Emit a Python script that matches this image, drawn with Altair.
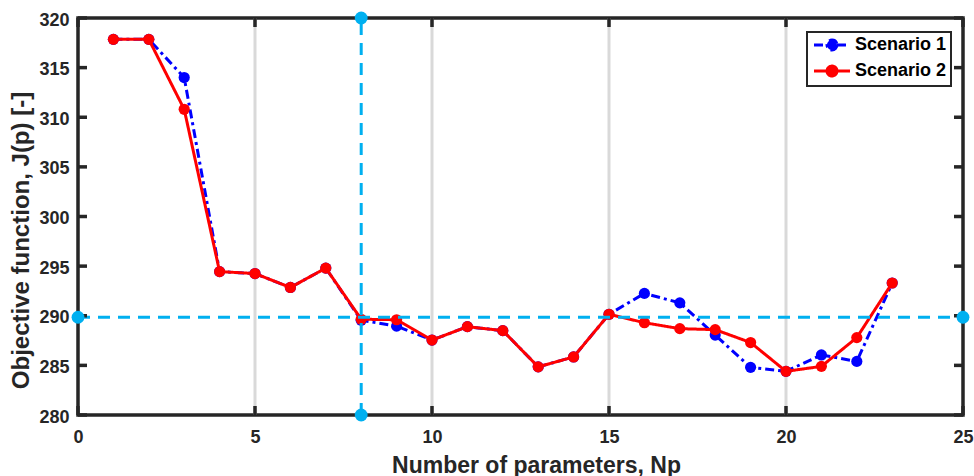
import altair as alt
import pandas as pd

# Objective function vs number of parameters for two scenarios
np_values = list(range(1, 24))
scenario_1 = [317.85, 317.85, 314.0, 294.45, 294.25, 292.85, 294.8, 289.55, 288.95,
              287.55, 288.9, 288.5, 284.85, 285.85, 290.15, 292.25, 291.3, 288.05,
              284.8, 284.4, 286.05, 285.4, 293.3]
scenario_2 = [317.85, 317.85, 310.8, 294.45, 294.25, 292.85, 294.8, 289.65, 289.6,
              287.55, 288.9, 288.5, 284.85, 285.85, 290.15, 289.3, 288.7, 288.6,
              287.3, 284.4, 284.9, 287.8, 293.3]
series_names = ["Scenario 1", "Scenario 2"]
series_colors = ["#0000FF", "#FF0000"]
series_dashes = [[9, 4, 3, 4], [1, 0]]

# Selected model size and the corresponding objective level
ref_np = 8
ref_j = 289.85

x_domain = [0, 25]
y_domain = [280, 320]
x_ticks = [0, 5, 10, 15, 20, 25]
y_ticks = [280, 285, 290, 295, 300, 305, 310, 315, 320]
grid_x = [5, 10, 15, 20]

W, H = 885, 397
FONT = "Liberation Sans"
INK = "#262626"
CYAN = "#00B0F0"

df = pd.DataFrame({
    "Np": np_values * 2,
    "J": scenario_1 + scenario_2,
    "series": [series_names[0]] * len(np_values) + [series_names[1]] * len(np_values),
})

x_scale = alt.Scale(domain=x_domain, nice=False, zero=False)
y_scale = alt.Scale(domain=y_domain, nice=False, zero=False)

x_axis = alt.Axis(
    values=x_ticks, format="d", domain=False, ticks=False, tickSize=0, grid=False,
    labelFont=FONT, labelFontSize=18, labelFontWeight="bold", labelColor=INK,
    labelPadding=27, labelBaseline="alphabetic", labelFlush=False,
    title="Number of parameters, Np", titleFont=FONT, titleFontSize=23,
    titleFontWeight="bold", titleColor=INK, titleX=458, titleY=57,
    titleBaseline="alphabetic", titleAlign="center",
)
y_axis = alt.Axis(
    values=y_ticks, format="d", domain=False, ticks=False, tickSize=0, grid=False,
    labelFont=FONT, labelFontSize=18, labelFontWeight="bold", labelColor=INK,
    labelPadding=9, labelBaseline="middle", labelOffset=2, labelFlush=False,
    title="Objective function, J(p) [-]", titleFont=FONT, titleFontSize=24,
    titleFontWeight="bold", titleColor=INK, titleX=-50, titleY=222,
    titleBaseline="alphabetic", titleAlign="center", titleAngle=270,
)


def xq(field):
    return alt.X(field, type="quantitative", scale=x_scale, axis=x_axis)


def yq(field):
    return alt.Y(field, type="quantitative", scale=y_scale, axis=y_axis)


# Legend symbol: short line with a dot in the middle
legend_symbol = ("M-1,0L1.17,0M2.83,0A0.83,0.83,0,1,1,1.17,0"
                 "A0.83,0.83,0,1,1,2.83,0ZM2.83,0L5,0")
legend = alt.Legend(
    title=None, orient="none", legendX=729, legendY=14,
    symbolType=legend_symbol, symbolSize=144, symbolStrokeWidth=3, symbolOpacity=1,
    labelFont=FONT, labelFontSize=18, labelFontWeight="bold", labelColor="black",
    labelOffset=26, padding=4, rowPadding=4,
    strokeColor=INK, fillColor="white",
)
color_scale = alt.Scale(domain=series_names, range=series_colors)
dash_scale = alt.Scale(domain=series_names, range=series_dashes)

# Vertical grid lines
grid = alt.Chart(pd.DataFrame({"x": grid_x})).mark_rule(
    color="#D9D9D9", strokeWidth=3
).encode(x=xq("x"), y=alt.value(0), y2=alt.value(H))

layers = [grid]

for name in series_names:
    sub = alt.Chart(df).transform_filter(alt.datum.series == name)
    line = sub.mark_line(strokeWidth=3, strokeCap="butt").encode(
        x=xq("Np"), y=yq("J"),
        stroke=alt.Stroke("series:N", scale=color_scale, legend=legend),
        strokeDash=alt.StrokeDash("series:N", scale=dash_scale, legend=legend),
    )
    pts = sub.mark_circle(size=125, opacity=1).encode(
        x=xq("Np"), y=yq("J"),
        fill=alt.Fill("series:N", scale=color_scale, legend=legend),
    )
    layers += [line, pts]

# Cyan reference cross-hair with end markers
h_ref = alt.Chart(pd.DataFrame({"x0": [x_domain[0]], "x1": [x_domain[1]], "y": [ref_j]})).mark_rule(
    color=CYAN, strokeWidth=3, strokeDash=[12, 8]
).encode(x=xq("x0"), x2="x1", y=yq("y"))
v_ref = alt.Chart(pd.DataFrame({"x": [ref_np], "y0": [y_domain[0]], "y1": [y_domain[1]]})).mark_rule(
    color=CYAN, strokeWidth=3, strokeDash=[12, 8]
).encode(x=xq("x"), y=yq("y0"), y2="y1")
ref_pts = alt.Chart(pd.DataFrame({
    "x": [x_domain[0], x_domain[1], ref_np, ref_np],
    "y": [ref_j, ref_j, y_domain[0], y_domain[1]],
})).mark_circle(size=165, opacity=1, color=CYAN).encode(x=xq("x"), y=yq("y"))
layers += [h_ref, v_ref]

# Inward tick marks on all four sides of the box
tick_len = 9
xt = pd.DataFrame({"v": x_ticks})
yt = pd.DataFrame({"v": y_ticks})
tick_style = dict(color=INK, strokeWidth=3.5)
layers += [
    alt.Chart(xt).mark_rule(**tick_style).encode(x=xq("v"), y=alt.value(H), y2=alt.value(H - tick_len)),
    alt.Chart(xt).mark_rule(**tick_style).encode(x=xq("v"), y=alt.value(0), y2=alt.value(tick_len)),
    alt.Chart(yt).mark_rule(**tick_style).encode(y=yq("v"), x=alt.value(0), x2=alt.value(tick_len)),
    alt.Chart(yt).mark_rule(**tick_style).encode(y=yq("v"), x=alt.value(W), x2=alt.value(W - tick_len)),
    ref_pts,
]

chart = alt.layer(*layers).properties(
    width=W, height=H,
    autosize=alt.AutoSizeParams(type="none"),
    padding={"left": 78, "top": 18, "right": 11, "bottom": 61},
    background="white",
).configure_view(
    stroke=INK, strokeWidth=3.5
).configure_legend(
    strokeWidth=2
)

chart.save("out.html", embed_options={"renderer": "svg", "actions": False})
